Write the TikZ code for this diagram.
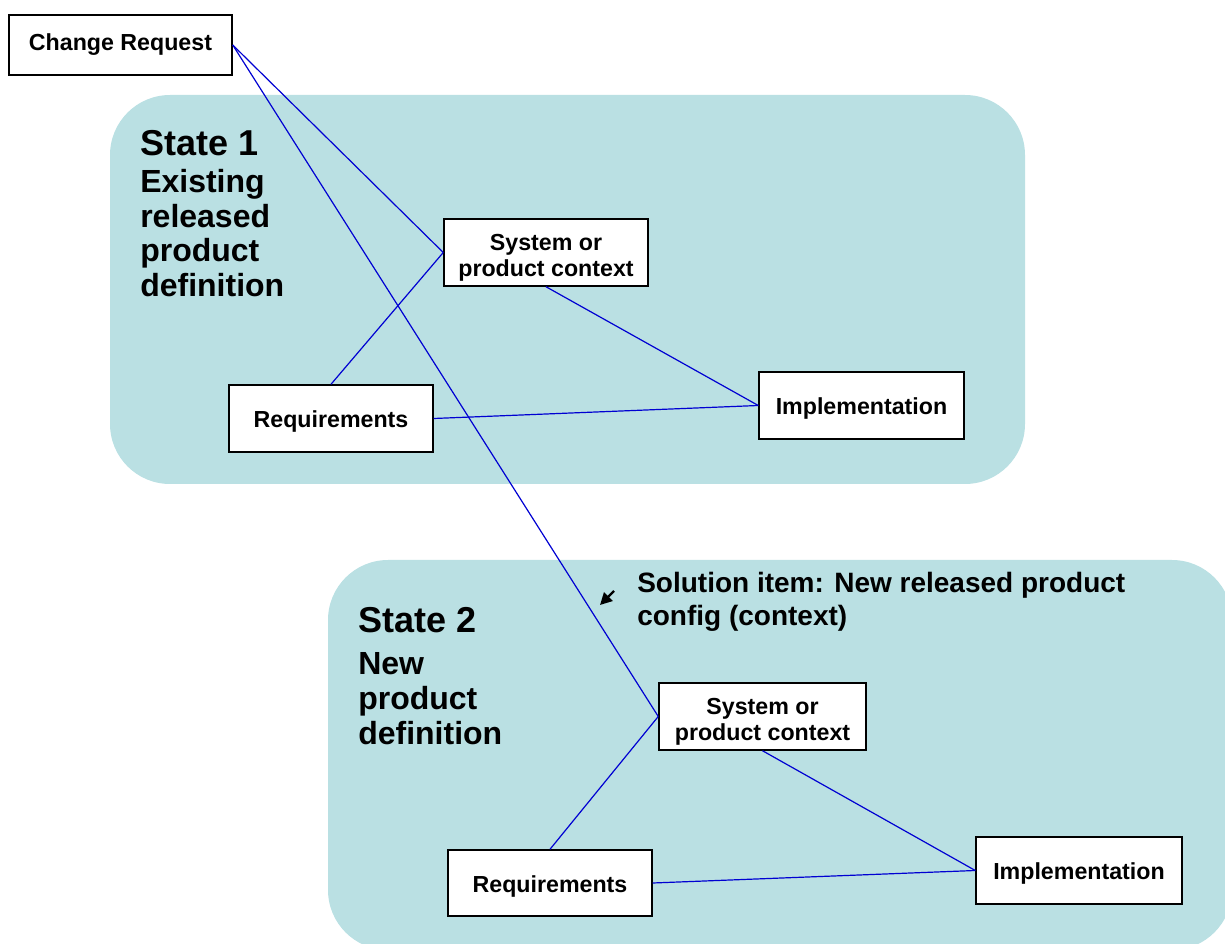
\documentclass[tikz,border=0pt]{standalone}
\usepackage{fontspec}
\setmainfont{Liberation Sans}
\usetikzlibrary{arrows.meta}
\definecolor{statefill}{RGB}{186,224,227}
\definecolor{linkblue}{RGB}{0,0,210}
\newcommand{\onetxt}[1]{\raisebox{-7pt}[0pt][0pt]{#1}}
\newcommand{\twotxt}[2]{\raisebox{1.65pt}[0pt][0pt]{\begin{tabular}[t]{@{}c@{}}#1\\#2\end{tabular}}}
\begin{document}
\begin{tikzpicture}[x=0.75pt,y=-0.75pt,
  box/.style={draw=black,line width=1.1pt,fill=white,inner sep=0pt,
    font=\fontsize{17.4}{19.5}\selectfont\bfseries},
  statebg/.style={fill=statefill,draw=none,rounded corners=45pt},
  link/.style={draw=linkblue,line width=0.9pt},
  head/.style={anchor=base west,inner sep=0pt,font=\fontsize{27}{30}\selectfont\bfseries},
  body/.style={anchor=base west,inner sep=0pt,font=\fontsize{24}{26}\selectfont\bfseries},
  note/.style={anchor=base west,inner sep=0pt,font=\fontsize{21}{24}\selectfont\bfseries}]
\useasboundingbox (0,0) rectangle (1225,944);
\begin{scope}
\clip (0,0) rectangle (1225,944);
\fill[statebg] (110,95) rectangle (1025,484);
\fill[statebg] (328,560) rectangle (1232,950);
\end{scope}
% State 1 texts
\node[head] (s1h) at (140,156) {State 1};
\node[body] (s1a) at (140,193) {Existing};
\node[body] (s1b) at (140,227.5) {released};
\node[body] (s1c) at (140,262) {product};
\node[body] (s1d) at (140,296.5) {definition};
% State 2 texts
\node[head] (s2h) at (358,633) {State 2};
\node[body] (s2a) at (358,674) {New};
\node[body] (s2b) at (358,709) {product};
\node[body] (s2c) at (358,744) {definition};
% Solution note
\node[note] (sn1) at (637,593) {Solution item: New released product};
\node[note] (sn2) at (637,625) {config (context)};
% boxes
\node[box,minimum width=167.25pt,minimum height=45pt] (cr) at (120.5,45) {Change Request};
\node[box,minimum width=153pt,minimum height=50.25pt] (sys1) at (546,252.5) {\twotxt{System or}{product context}};
\node[box,minimum width=153pt,minimum height=50.25pt] (req1) at (331,418.5) {\onetxt{Requirements}};
\node[box,minimum width=153.75pt,minimum height=50.25pt] (imp1) at (861.5,405.5) {\onetxt{Implementation}};
\node[box,minimum width=155.25pt,minimum height=50.25pt] (sys2) at (762.5,716.5) {\twotxt{System or}{product context}};
\node[box,minimum width=153pt,minimum height=49.5pt] (req2) at (550,883) {\onetxt{Requirements}};
\node[box,minimum width=154.5pt,minimum height=50.25pt] (imp2) at (1079,870.5) {\onetxt{Implementation}};
% connectors
\draw[link] (cr.east) -- (sys1.west);
\draw[link] (cr.east) -- (sys2.west);
\draw[link] (req1.north) -- (sys1.west);
\draw[link] (sys1.south) -- (imp1.west);
\draw[link] (req1.east) -- (imp1.west);
\draw[link] (req2.north) -- (sys2.west);
\draw[link] (sys2.south) -- (imp2.west);
\draw[link] (req2.east) -- (imp2.west);
% arrow
\coordinate (at) at (614,591);
\coordinate (ah) at (600,605);
\draw[line width=1.8pt,-{Triangle[length=9pt,width=9pt]}] (at) -- (ah);
\end{tikzpicture}
\end{document}
